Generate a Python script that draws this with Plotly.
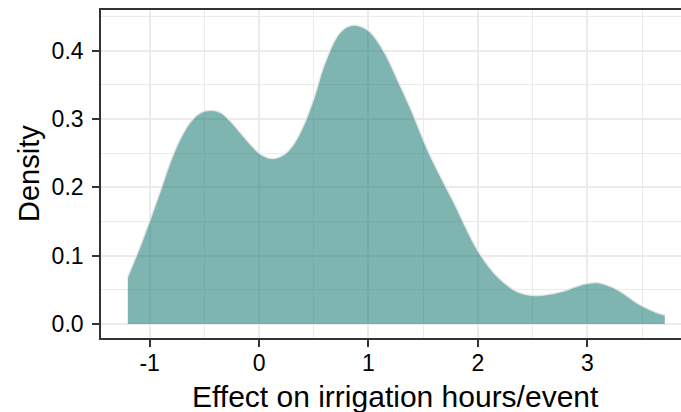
import plotly.graph_objects as go

# Density curve
effect = [-1.2, -1.081, -0.99, -0.899, -0.808, -0.716, -0.624, -0.533, -0.441, -0.35,
          -0.259, -0.167, -0.076, 0.016, 0.122, 0.229, 0.32, 0.411, 0.503, 0.594,
          0.716, 0.80, 0.884, 0.96, 1.021, 1.143, 1.265, 1.387, 1.539, 1.66,
          1.782, 1.996, 2.179, 2.362, 2.529, 2.758, 2.941, 3.093, 3.276, 3.459,
          3.611, 3.708]
density = [0.069, 0.116, 0.155, 0.196, 0.238, 0.272, 0.296, 0.309, 0.3125, 0.309,
           0.296, 0.279, 0.262, 0.248, 0.242, 0.248, 0.264, 0.292, 0.331, 0.378,
           0.421, 0.434, 0.437, 0.433, 0.426, 0.398, 0.357, 0.314, 0.255, 0.215,
           0.177, 0.108, 0.069, 0.047, 0.0415, 0.047, 0.057, 0.0605, 0.050, 0.030,
           0.018, 0.013]

x_ticks = [-1, 0, 1, 2, 3]
x_ticktext = ["-1", "0", "1", "2", "3"]
y_ticks = [0.0, 0.1, 0.2, 0.3, 0.4]
y_ticktext = ["0.0", "0.1", "0.2", "0.3", "0.4"]

x_title = "Effect on irrigation hours/event"
y_title = "Density"

FONT = "Liberation Sans, Arial, Helvetica, sans-serif"
GRID = "#ebebeb"
FRAME = "#333333"

fig = go.Figure()
fig.add_trace(go.Scatter(
    x=effect, y=density, mode="lines",
    line=dict(color="#e4e4e4", width=1.3, shape="spline", smoothing=1.0),
    fill="tozeroy", fillcolor="rgba(20,120,111,0.55)",
    hoverinfo="skip", showlegend=False,
))

fig.update_layout(
    width=681, height=412,
    margin=dict(l=101, r=0, t=10, b=74),
    paper_bgcolor="white", plot_bgcolor="white",
    font=dict(family=FONT, color="black"),
    showlegend=False,
)

fig.update_xaxes(
    range=[-1.445, 3.8565],
    tickvals=x_ticks, ticktext=x_ticktext,
    tickfont=dict(size=23, color="black", family=FONT),
    showgrid=True, gridcolor=GRID, gridwidth=2,
    minor=dict(dtick=0.5, tick0=0, showgrid=True, gridcolor=GRID, gridwidth=1, ticklen=0),
    zeroline=False,
    showline=True, linecolor=FRAME, linewidth=1.6, mirror=True,
    ticks="outside", ticklen=7, tickwidth=2, tickcolor=FRAME,
    ticklabelstandoff=-3,
)
fig.update_yaxes(
    range=[-0.0205, 0.4593],
    tickvals=y_ticks, ticktext=y_ticktext,
    tickfont=dict(size=23, color="black", family=FONT),
    showgrid=True, gridcolor=GRID, gridwidth=2,
    minor=dict(dtick=0.05, tick0=0, showgrid=True, gridcolor=GRID, gridwidth=1, ticklen=0),
    zeroline=False,
    showline=True, linecolor=FRAME, linewidth=1.6, mirror=False,
    ticks="outside", ticklen=7, tickwidth=2, tickcolor=FRAME,
    ticklabelstandoff=4,
)

# Axis titles (x title centred on the full ggplot panel)
fig.add_annotation(
    text=x_title, xref="x", x=1.25, yref="paper", y=0,
    xanchor="center", yanchor="middle", yshift=-58,
    showarrow=False, font=dict(size=30, color="black", family=FONT),
)
fig.add_annotation(
    text=y_title, xref="paper", x=0, yref="paper", y=0.5,
    xanchor="center", yanchor="middle", xshift=-72, textangle=-90,
    showarrow=False, font=dict(size=29, color="black", family=FONT),
)

fig.write_html("out.html")
